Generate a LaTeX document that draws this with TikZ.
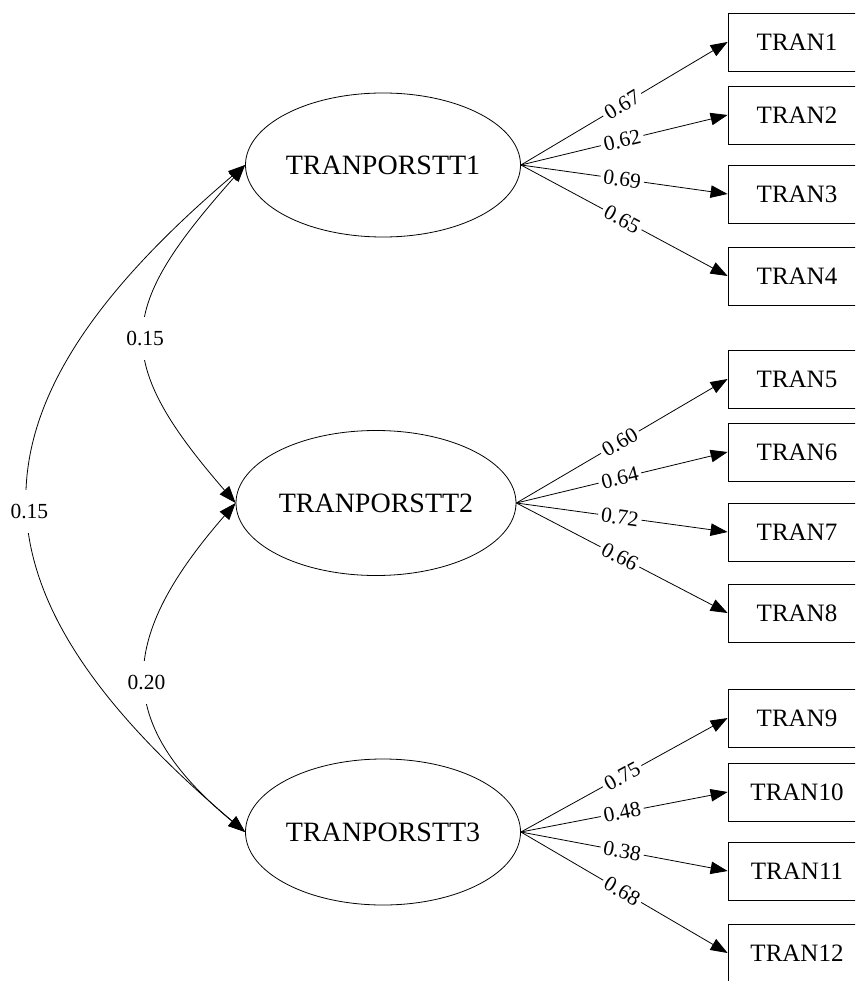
\documentclass[tikz,border=0pt]{standalone}
\usepackage{fontspec}
\setmainfont{Liberation Serif}
\usetikzlibrary{shapes.geometric,arrows.meta}

\begin{document}
\begin{tikzpicture}[x=1pt,y=-1pt,
  line width=0.8pt,
  latent/.style={draw, ellipse, inner sep=0pt, font=\fontsize{28}{28}\selectfont},
  indicator/.style={draw, rectangle, inner sep=0pt, minimum width=138pt,
    minimum height=58pt, font=\fontsize{25}{25}\selectfont},
  tip/.style={Triangle[length=17pt,width=12.5pt]},
  loading/.style={-{Triangle[length=17pt,width=12.5pt]}},
  covar/.style={{Triangle[length=17pt,width=12.5pt]}-{Triangle[length=17pt,width=12.5pt]}},
  fanlabel/.style={sloped, fill=white, inner xsep=3pt, inner ysep=1pt,
    font=\fontsize{21.5}{21.5}\selectfont},
  arclabel/.style={fill=white, inner xsep=2pt, inner ysep=14pt,
    font=\fontsize{21.5}{21.5}\selectfont}
]
\useasboundingbox (0,0) rectangle (855,981);
\clip (0,0) rectangle (855,981);

% latent factors
\node[latent, minimum width=266pt, minimum height=144pt] (f1) at (383,165) {TRANPORSTT1};
\node[latent, minimum width=280pt, minimum height=145pt] (f2) at (376,503) {TRANPORSTT2};
\node[latent, minimum width=266pt, minimum height=146pt] (f3) at (383,832) {TRANPORSTT3};

% observed indicators
\node[indicator] (t1)  at (797,42)  {TRAN1};
\node[indicator] (t2)  at (797,115) {TRAN2};
\node[indicator] (t3)  at (797,194) {TRAN3};
\node[indicator] (t4)  at (797,276) {TRAN4};
\node[indicator] (t5)  at (797,379) {TRAN5};
\node[indicator] (t6)  at (797,452) {TRAN6};
\node[indicator] (t7)  at (797,532) {TRAN7};
\node[indicator] (t8)  at (797,613) {TRAN8};
\node[indicator] (t9)  at (797,718) {TRAN9};
\node[indicator] (t10) at (797,792) {TRAN10};
\node[indicator] (t11) at (797,871) {TRAN11};
\node[indicator] (t12) at (797,953) {TRAN12};

% factor loadings
\draw[loading] (f1.east) -- (t1.west) node[fanlabel, pos=0.49] {0.67};
\draw[loading] (f1.east) -- (t2.west) node[fanlabel, pos=0.49] {0.62};
\draw[loading] (f1.east) -- (t3.west) node[fanlabel, pos=0.49] {0.69};
\draw[loading] (f1.east) -- (t4.west) node[fanlabel, pos=0.49] {0.65};

\draw[loading] (f2.east) -- (t5.west) node[fanlabel, pos=0.49] {0.60};
\draw[loading] (f2.east) -- (t6.west) node[fanlabel, pos=0.49] {0.64};
\draw[loading] (f2.east) -- (t7.west) node[fanlabel, pos=0.49] {0.72};
\draw[loading] (f2.east) -- (t8.west) node[fanlabel, pos=0.49] {0.66};

\draw[loading] (f3.east) -- (t9.west)  node[fanlabel, pos=0.49] {0.75};
\draw[loading] (f3.east) -- (t10.west) node[fanlabel, pos=0.49] {0.48};
\draw[loading] (f3.east) -- (t11.west) node[fanlabel, pos=0.49] {0.38};
\draw[loading] (f3.east) -- (t12.west) node[fanlabel, pos=0.49] {0.68};

% factor covariances
\draw[covar] (f1.west) .. controls (-43,410) and (-43,588) .. (f3.west)
  node[arclabel, pos=0.52] {0.15};
\draw[covar] (f1.west) .. controls (118,308) and (109,357) .. (f2.west)
  node[arclabel, pos=0.52] {0.15};
\draw[covar] (f2.west) .. controls (119,637) and (111,721) .. (f3.west)
  node[arclabel, pos=0.52] {0.20};
\end{tikzpicture}
\end{document}
